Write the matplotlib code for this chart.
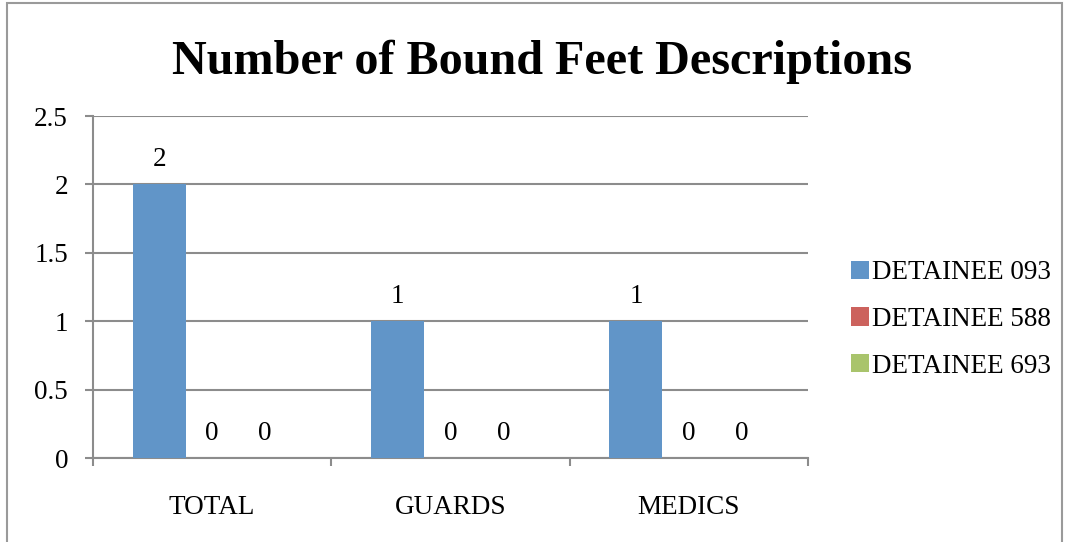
import numpy as np
import matplotlib
matplotlib.use("Agg")
import matplotlib.pyplot as plt
from matplotlib.patches import Rectangle

# data
categories = ["TOTAL", "GUARDS", "MEDICS"]
series_names = ["DETAINEE 093", "DETAINEE 588", "DETAINEE 693"]
det_093 = [2, 1, 1]
det_588 = [0, 0, 0]
det_693 = [0, 0, 0]
colors = ["#6195C8", "#CC625D", "#A9C46C"]
y_ticks = [0, 0.5, 1, 1.5, 2, 2.5]
y_tick_labels = ["0", "0.5", "1", "1.5", "2", "2.5"]

plt.rcParams['font.family'] = ['Liberation Serif', 'DejaVu Serif']
grey = "#8c8c8c"

fig = plt.figure(figsize=(10.67, 5.42), dpi=100)
ax = fig.add_axes([93/1067, 1-458/542, (808-93)/1067, (458-116)/542])

# outer border of chart
fig.patches.append(Rectangle((7/1067, -0.05), (1062-7)/1067, 1.05 - 3/542,
                             transform=fig.transFigure, fill=False,
                             edgecolor="#9a9a9a", linewidth=1.5))

x = np.arange(len(categories))
w = 0.222
all_series = [det_093, det_588, det_693]
for i, vals in enumerate(all_series):
    xs = x + (i - 1) * w
    ax.bar(xs, vals, width=w, color=colors[i], label=series_names[i], zorder=3)
    for xi, v in zip(xs, vals):
        ax.annotate(str(v), (xi, v), xytext=(0, 9), textcoords="offset points",
                    ha="center", va="bottom", fontsize=19.5)

ax.set_xlim(-0.5, 2.5)
ax.set_ylim(0, 2.5)
ax.set_yticks(y_ticks)
ax.set_yticklabels(y_tick_labels, fontsize=19.5)
ax.yaxis.grid(True, color=grey, linewidth=1.5, zorder=0)
ax.set_axisbelow(True)

ax.set_xticks(x)
ax.set_xticklabels(categories, fontsize=19.5)
ax.tick_params(axis="x", length=0, pad=27)
ax.set_xticks([-0.5, 0.5, 1.5, 2.5], minor=True)
ax.tick_params(axis="x", which="minor", length=6, width=1.5, color=grey)
ax.tick_params(axis="y", length=6, width=1.5, color=grey, pad=12)

for side in ["top", "right"]:
    ax.spines[side].set_visible(False)
for side in ["left", "bottom"]:
    ax.spines[side].set_color(grey)
    ax.spines[side].set_linewidth(1.5)

fig.text(542/1067, 1-62/542, "Number of Bound Feet Descriptions", ha="center", va="center",
         fontsize=34.7, fontweight="bold")

leg = ax.legend(loc="center left", bbox_to_anchor=(1.045, 0.405), frameon=False,
                fontsize=19.5, handlelength=0.65, handleheight=0.65, handletextpad=0.12,
                labelspacing=0.8, borderaxespad=0)

fig.savefig("out.png", dpi=100)
